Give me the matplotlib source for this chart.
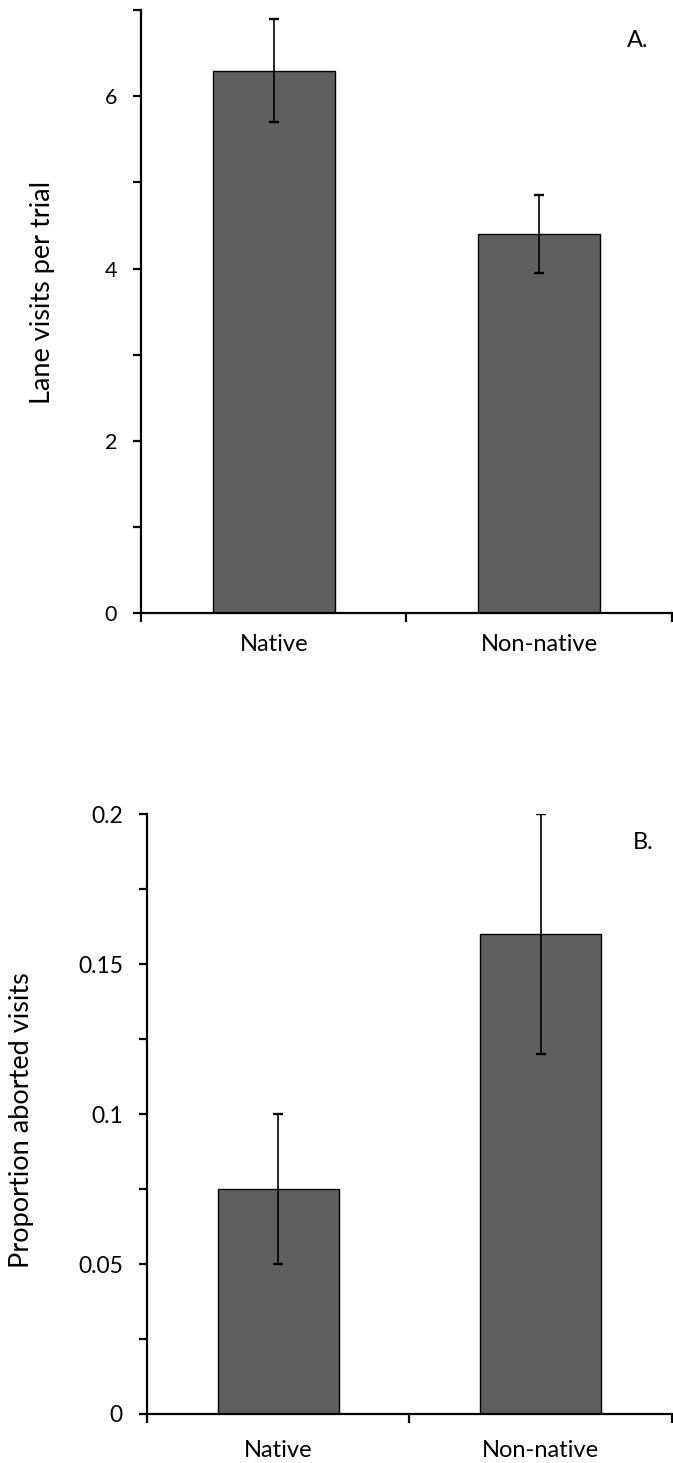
import matplotlib
matplotlib.use("Agg")
import matplotlib.pyplot as plt
import numpy as np

plt.rcParams['font.family'] = ['Lato', 'DejaVu Sans']

categories = ["Native", "Non-native"]

visits_mean = [6.3, 4.4]
visits_err = [0.6, 0.45]
visits_ticks = [0, 2, 4, 6]

aborted_mean = [0.075, 0.16]
aborted_err = [0.025, 0.04]
aborted_ticks = [0, 0.05, 0.1, 0.15, 0.2]
aborted_ticklabels = ["0", "0.05", "0.1", "0.15", "0.2"]

BAR_COLOR = "#5f5f5f"

fig = plt.figure(figsize=(6.73, 14.63), dpi=100)

def style_axis(ax, means, errs, ymax, major, minor, ticklabels, tick_fs, ylabel,
               letter, letter_pos, label_coords, xpad):
    x = np.arange(len(categories))
    ax.bar(x, means, width=0.46, color=BAR_COLOR, edgecolor="black", linewidth=1.0, zorder=2)
    ax.errorbar(x, means, yerr=errs, fmt="none", ecolor="black",
                elinewidth=1.2, capsize=3.6, capthick=1.7, zorder=3)
    ax.set_xlim(-0.5, 1.5)
    ax.set_ylim(0, ymax)
    for s in ["top", "right"]:
        ax.spines[s].set_visible(False)
    for s in ["left", "bottom"]:
        ax.spines[s].set_linewidth(1.6)
    ax.set_xticks([-0.5, 0.5, 1.5])
    ax.set_xticklabels([])
    ax.set_xticks(x, minor=True)
    ax.set_xticklabels(categories, minor=True, fontsize=17)
    ax.tick_params(axis="x", which="major", length=6.5, width=1.6, direction="out")
    ax.tick_params(axis="x", which="minor", length=0, pad=xpad)
    ax.set_yticks(major)
    ax.set_yticklabels(ticklabels, fontsize=tick_fs)
    ax.set_yticks(minor, minor=True)
    ax.tick_params(axis="y", which="both", length=5.8, width=1.6, direction="out", pad=11.5)
    ax.set_ylabel(ylabel, fontsize=19.5)
    ax.yaxis.set_label_coords(*label_coords)
    ax.text(letter_pos[0], letter_pos[1], letter, transform=ax.transAxes, fontsize=17,
            ha="left", va="center")

ax1 = fig.add_axes([0.2095, 0.581, 0.789, 0.412])
style_axis(ax1, visits_mean, visits_err, 7, visits_ticks, [1, 3, 5, 7],
           [str(t) for t in visits_ticks], 15.5,
           "Lane visits per trial", "A.", (0.915, 0.950), (-0.162, 0.531), 15)

ax2 = fig.add_axes([0.2184, 0.0335, 0.780, 0.410])
style_axis(ax2, aborted_mean, aborted_err, 0.2, aborted_ticks, [0.025, 0.075, 0.125, 0.175],
           aborted_ticklabels, 16.5,
           "Proportion aborted visits", "B.", (0.926, 0.952), (-0.215, 0.49), 19)

fig.savefig("out.png", dpi=100)
